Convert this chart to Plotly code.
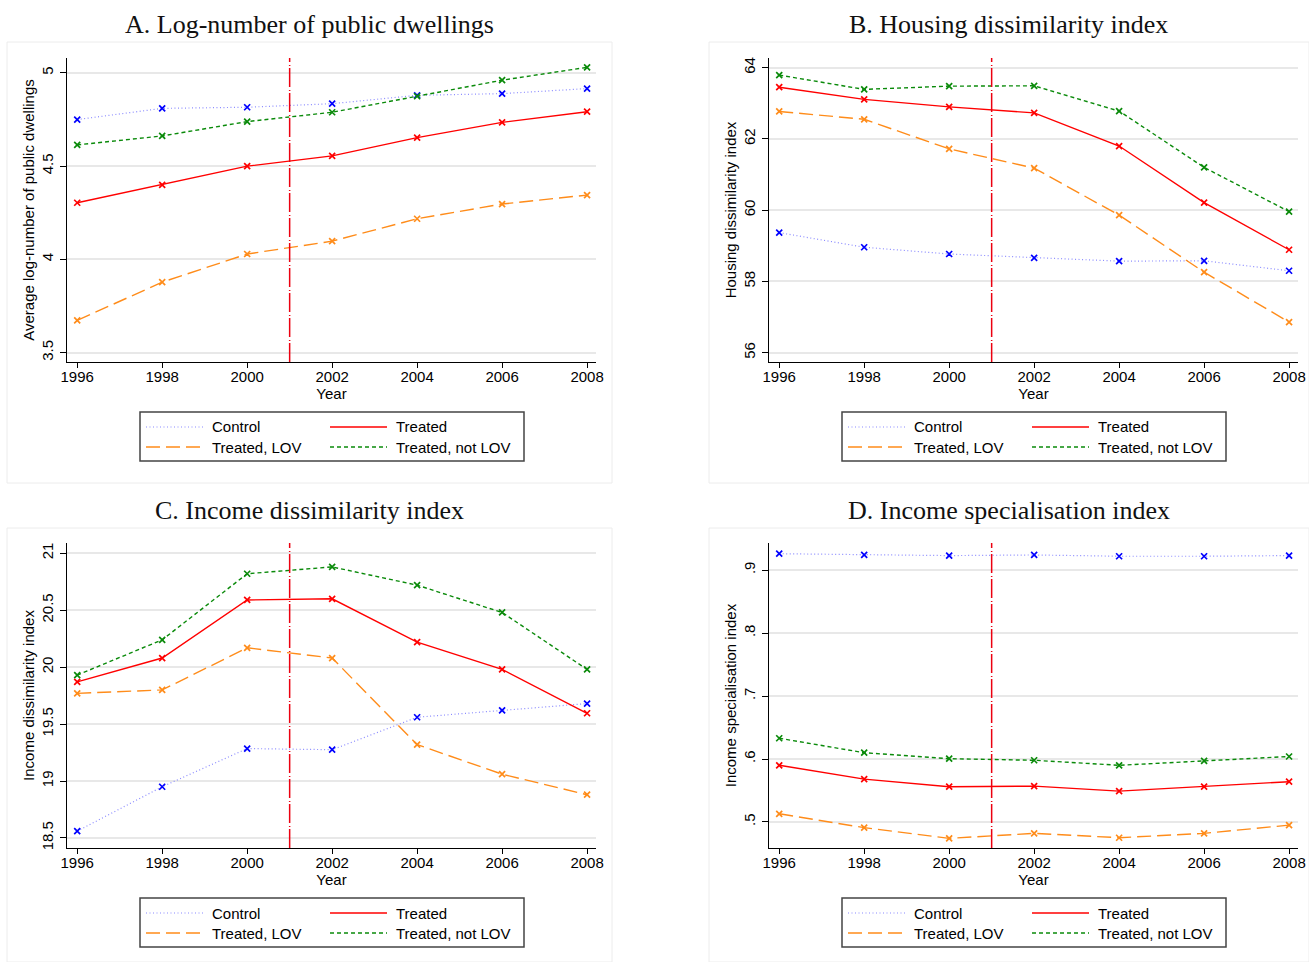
import plotly.graph_objects as go

W, H = 1309, 962

years = [1996, 1998, 2000, 2002, 2004, 2006, 2008]
series_names = ["Control", "Treated", "Treated, LOV", "Treated, not LOV"]

# Panel A: Log-number of public dwellings
a_control = [4.75, 4.81, 4.816, 4.835, 4.88, 4.889, 4.916]
a_treated = [4.304, 4.40, 4.50, 4.555, 4.653, 4.735, 4.792]
a_lov = [3.673, 3.878, 4.029, 4.098, 4.218, 4.297, 4.345]
a_notlov = [4.614, 4.662, 4.739, 4.789, 4.875, 4.961, 5.03]

# Panel B: Housing dissimilarity index
b_control = [59.37, 58.96, 58.77, 58.66, 58.57, 58.58, 58.30]
b_treated = [63.45, 63.11, 62.90, 62.73, 61.80, 60.21, 58.89]
b_lov = [62.77, 62.55, 61.72, 61.18, 59.86, 58.26, 56.86]
b_notlov = [63.79, 63.39, 63.48, 63.49, 62.78, 61.20, 59.96]

# Panel C: Income dissimilarity index
c_control = [18.56, 18.95, 19.285, 19.275, 19.56, 19.62, 19.68]
c_treated = [19.87, 20.08, 20.59, 20.60, 20.22, 19.98, 19.595]
c_lov = [19.77, 19.80, 20.17, 20.08, 19.32, 19.06, 18.88]
c_notlov = [19.93, 20.24, 20.82, 20.88, 20.72, 20.48, 19.98]

# Panel D: Income specialisation index
d_control = [0.926, 0.924, 0.923, 0.924, 0.922, 0.922, 0.923]
d_treated = [0.590, 0.568, 0.556, 0.557, 0.549, 0.556, 0.564]
d_lov = [0.513, 0.491, 0.474, 0.482, 0.475, 0.482, 0.495]
d_notlov = [0.633, 0.610, 0.6005, 0.598, 0.590, 0.597, 0.604]

titles = ["A. Log-number of public dwellings", "B. Housing dissimilarity index",
          "C. Income dissimilarity index", "D. Income specialisation index"]
ytitles = ["Average log-number of public dwellings", "Housing dissimilarity index",
           "Income dissimilarity index", "Income specialisation index"]
yticks = [[3.5, 4, 4.5, 5], [56, 58, 60, 62, 64], [18.5, 19, 19.5, 20, 20.5, 21],
          [0.5, 0.6, 0.7, 0.8, 0.9]]
yticktext = [["3.5", "4", "4.5", "5"], ["56", "58", "60", "62", "64"],
             ["18.5", "19", "19.5", "20", "20.5", "21"], [".5", ".6", ".7", ".8", ".9"]]
yranges = [[3.450, 5.080], [55.74, 64.27], [18.412, 21.09], [0.4587, 0.943]]
treatment_year = 2001

panels = [
    [a_control, a_treated, a_lov, a_notlov],
    [b_control, b_treated, b_lov, b_notlov],
    [c_control, c_treated, c_lov, c_notlov],
    [d_control, d_treated, d_lov, d_notlov],
]

line_styles = {
    "Control": dict(color="#8a8aff", width=1.2, dash="1px,2.5px"),
    "Treated": dict(color="#ff0000", width=1.4, dash="solid"),
    "Treated, LOV": dict(color="#ff8c1a", width=1.4, dash="14px,6px"),
    "Treated, not LOV": dict(color="#0a8a0a", width=1.4, dash="4px,3px"),
}
marker_colors = {
    "Control": "#0000ff",
    "Treated": "#ff0000",
    "Treated, LOV": "#ff8c1a",
    "Treated, not LOV": "#0a8a0a",
}

# pixel geometry of the panels
plot_px = [
    (67, 596, 58, 362),
    (769, 1298, 58, 362),
    (67, 596, 543, 848),
    (769, 1298, 543, 848),
]
box_px = [(7, 612, 42, 483), (709, 1309, 42, 483), (7, 612, 528, 962), (709, 1309, 528, 962)]

fig = go.Figure()
shapes = []
annotations = []
layout = {}

def px_x(x):
    return x / W

def px_y(y):
    return 1 - y / H

FONT = "Liberation Sans, Arial"

for i, (vals, (x0, x1, y0, y1)) in enumerate(zip(panels, plot_px)):
    sfx = "" if i == 0 else str(i + 1)
    xa, ya = "x" + sfx, "y" + sfx
    for name, v in zip(series_names, vals):
        fig.add_trace(go.Scatter(
            x=years, y=v, mode="lines+markers", name=name, showlegend=False,
            xaxis=xa, yaxis=ya,
            line=line_styles[name],
            marker=dict(symbol="x-thin", size=6,
                        line=dict(color=marker_colors[name], width=1.7)),
        ))
    layout["xaxis" + sfx] = dict(
        domain=[px_x(x0), px_x(x1)], anchor=ya, range=[1995.76, 2008.21],
        automargin=False,
        tickvals=years, ticks="outside", ticklen=5, tickcolor="#000", tickwidth=1,
        ticklabelstandoff=-4,
        showline=True, linecolor="#000", linewidth=1.2, showgrid=False, zeroline=False,
        tickfont=dict(family=FONT, size=15, color="#000"),
        title=dict(text="Year", standoff=0,
                   font=dict(family=FONT, size=15, color="#000")),
    )
    layout["yaxis" + sfx] = dict(
        domain=[px_y(y1), px_y(y0)], anchor=xa, range=yranges[i],
        automargin=False,
        tickvals=yticks[i], ticktext=yticktext[i], tickangle=-90,
        ticks="outside", ticklen=6, tickcolor="#000", tickwidth=1,
        ticklabelstandoff=1,
        showline=True, linecolor="#000", linewidth=1.2,
        showgrid=True, gridcolor="#e8e8e8", gridwidth=2, zeroline=False,
        tickfont=dict(family=FONT, size=15, color="#000"),
        title=dict(text=ytitles[i], standoff=0,
                   font=dict(family=FONT, size=15, color="#000")),
    )
    # treatment line
    shapes.append(dict(type="line", xref=xa, yref=ya + " domain", x0=treatment_year,
                       x1=treatment_year, y0=0, y1=1,
                       line=dict(color="#ec0010", width=1.5, dash="19px,2px,1px,3px")))
    # panel frame
    bx0, bx1, by0, by1 = box_px[i]
    shapes.append(dict(type="rect", xref="paper", yref="paper",
                       x0=px_x(bx0), x1=px_x(bx1), y0=px_y(by1), y1=px_y(by0),
                       line=dict(color="#ececec", width=1), layer="below"))
    # title
    annotations.append(dict(text=titles[i], xref="paper", yref="paper",
                            x=px_x((bx0 + bx1) / 2), y=px_y(by0 - 18),
                            xanchor="center", yanchor="middle", showarrow=False,
                            font=dict(family="Liberation Serif, Times New Roman, serif",
                                      size=26, color="#111")))
    # legend box
    lx0 = x0 + 73
    ly0 = y1 + 50
    shapes.append(dict(type="rect", xref="paper", yref="paper",
                       x0=px_x(lx0), x1=px_x(lx0 + 384), y0=px_y(ly0 + 49), y1=px_y(ly0),
                       line=dict(color="#444", width=1.5), fillcolor="white"))
    for k, name in enumerate(series_names):
        col, row = k % 2, k // 2
        sx0 = lx0 + 6 + col * 184
        sy = ly0 + 15 + row * 20
        st = line_styles[name]
        shapes.append(dict(type="line", xref="paper", yref="paper",
                           x0=px_x(sx0), x1=px_x(sx0 + 57), y0=px_y(sy), y1=px_y(sy),
                           line=dict(color=st["color"], width=st["width"], dash=st["dash"])))
        annotations.append(dict(text=name, xref="paper", yref="paper",
                                x=px_x(sx0 + 64), y=px_y(sy), xanchor="left", yanchor="middle",
                                showarrow=False,
                                font=dict(family=FONT, size=15, color="#000")))

fig.update_layout(
    width=W, height=H, margin=dict(l=0, r=0, t=0, b=0, autoexpand=False),
    paper_bgcolor="white", plot_bgcolor="white",
    shapes=shapes, annotations=annotations, showlegend=False,
    **layout,
)

fig.write_html("out.html")
